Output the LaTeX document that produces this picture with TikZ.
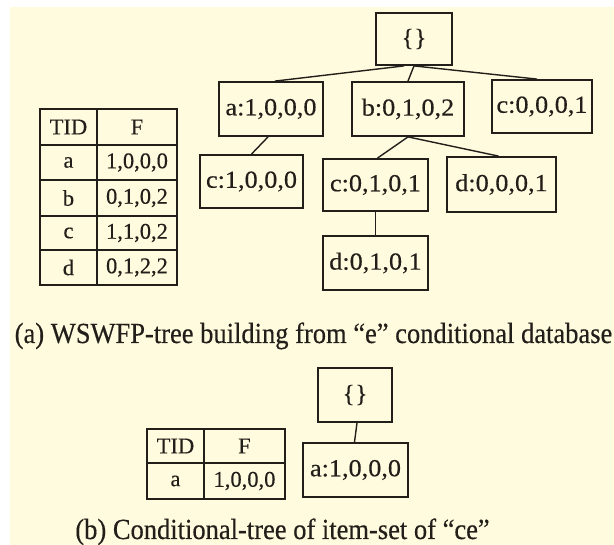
\documentclass[tikz,border=0pt]{standalone}
\usepackage{fontspec}
\setmainfont{Liberation Serif}[FakeBold=0.4]
\newfontfamily\nodefont[FakeStretch=1.07,FakeBold=0.4]{Liberation Serif}
\definecolor{cream}{RGB}{255,251,222}
\definecolor{ink}{RGB}{34,30,26}
\begin{document}
\begin{tikzpicture}[x=1pt,y=-1pt,
  box/.style={draw=ink, line width=1.8pt, inner sep=0pt, fill=cream,
    font=\nodefont\fontsize{24.5}{28}\selectfont, text=ink},
  edge/.style={draw=ink, line width=1.4pt},
  cell/.style={font=\fontsize{22.5}{26}\selectfont, text=ink, inner sep=0pt},
  tbl/.style={draw=ink, line width=1.8pt},
  captxt/.style={font=\fontsize{26.5}{30}\selectfont, text=ink, anchor=base, inner sep=0pt}]
\useasboundingbox (0,0) rectangle (614,545);
\fill[white] (0,0) rectangle (614,545);
\fill[cream] (10,7) rectangle (614,545);

% ---------- part (a): tree ----------
\node[box, minimum width=76pt, minimum height=52pt] (root) at (414,39) {\{\}};
\node[box, minimum width=104pt, minimum height=54pt] (a) at (271,109) {a:1,0,0,0};
\node[box, minimum width=112pt, minimum height=54pt] (b) at (408,109) {b:0,1,0,2};
\node[box, minimum width=100pt, minimum height=53pt] (c1) at (542,106.5) {c:0,0,0,1};
\node[box, minimum width=103pt, minimum height=53pt] (c2) at (251.5,181.5) {c:1,0,0,0};
\node[box, minimum width=105pt, minimum height=52pt] (c3) at (375.5,185) {c:0,1,0,1};
\node[box, minimum width=109pt, minimum height=55pt] (d1) at (501.5,184.5) {d:0,0,0,1};
\node[box, minimum width=105pt, minimum height=54pt] (d2) at (375.5,263) {d:0,1,0,1};

\draw[edge] ([xshift=-10pt]root.south) -- ([xshift=4pt]a.north);
\draw[edge] (root.south) -- (b.north);
\draw[edge] (root.south) -- ([xshift=-5pt]c1.north);
\draw[edge] ([xshift=-3pt]a.south) -- (c2.north);
\draw[edge] (b.south) -- ([xshift=2pt]c3.north);
\draw[edge] (b.south) -- ([xshift=-3pt]d1.north);
\draw[edge] (c3.south) -- (d2.north);

% ---------- part (a): table ----------
\draw[tbl] (40,109) rectangle (177,285);
\draw[tbl] (97,109) -- (97,285);
\foreach \yy in {145,180,216,250} \draw[tbl] (40,\yy) -- (177,\yy);
\node[cell] (t0a) at (68.5,127) {TID};
\node[cell] (t0b) at (137,127) {F};
\node[cell] (t1a) at (68.5,162.5) {a};
\node[cell] (t1b) at (137,162.5) {1,0,0,0};
\node[cell] (t2a) at (68.5,198) {b};
\node[cell] (t2b) at (137,198) {0,1,0,2};
\node[cell] (t3a) at (68.5,233) {c};
\node[cell] (t3b) at (137,233) {1,1,0,2};
\node[cell] (t4a) at (68.5,267.5) {d};
\node[cell] (t4b) at (137,267.5) {0,1,2,2};

\node[captxt] (capa) at (313.5,343) {\scalebox{1}[1.1]{(a) WSWFP-tree building from “e” conditional database}};

% ---------- part (b) ----------
\node[box, minimum width=74pt, minimum height=54pt] (root2) at (355,395) {\{\}};
\node[box, minimum width=105pt, minimum height=54pt] (a2) at (355.5,470) {a:1,0,0,0};
\draw[edge] ([xshift=2pt]root2.south) -- ([xshift=-1pt]a2.north);

\draw[tbl] (147,429) rectangle (285,499);
\draw[tbl] (204,429) -- (204,499);
\draw[tbl] (147,463) -- (285,463);
\node[cell] (u0a) at (175.5,446) {TID};
\node[cell] (u0b) at (244.5,446) {F};
\node[cell] (u1a) at (175.5,481) {a};
\node[cell] (u1b) at (244.5,481) {1,0,0,0};

\node[captxt] (capb) at (282.5,539) {\scalebox{1}[1.1]{(b) Conditional-tree of item-set of “ce”}};
\end{tikzpicture}
\end{document}
